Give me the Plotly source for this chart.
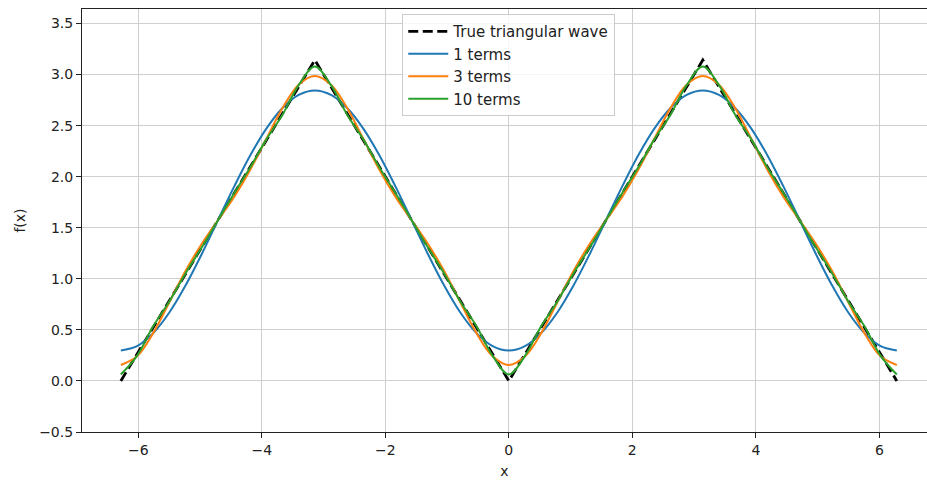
import plotly.graph_objects as go

# x grid (radians), from -2*pi to 2*pi
x_grid = [-6.2832, -6.0214, -5.7596, -5.4978, -5.2360, -4.9742, -4.7124, -4.4506, -4.1888,
          -3.9270, -3.6652, -3.4034, -3.1416, -2.8798, -2.6180, -2.3562, -2.0944, -1.8326,
          -1.5708, -1.3090, -1.0472, -0.7854, -0.5236, -0.2618, 0.0, 0.2618, 0.5236, 0.7854,
          1.0472, 1.3090, 1.5708, 1.8326, 2.0944, 2.3562, 2.6180, 2.8798, 3.1416, 3.4034,
          3.6652, 3.9270, 4.1888, 4.4506, 4.7124, 4.9742, 5.2360, 5.4978, 5.7596, 6.0214, 6.2832]

terms1 = [0.298, 0.341, 0.468, 0.670, 0.934, 1.241, 1.571, 1.900, 2.207, 2.471, 2.673, 2.801, 2.844,
          2.801, 2.673, 2.471, 2.207, 1.900, 1.571, 1.241, 0.934, 0.670, 0.468, 0.341, 0.298,
          0.341, 0.468, 0.670, 0.934, 1.241, 1.571, 1.900, 2.207, 2.471, 2.673, 2.801, 2.844,
          2.801, 2.673, 2.471, 2.207, 1.900, 1.571, 1.241, 0.934, 0.670, 0.468, 0.341, 0.298]

terms3 = [0.156, 0.241, 0.468, 0.771, 1.076, 1.341, 1.571, 1.800, 2.066, 2.371, 2.673, 2.901, 2.986,
          2.901, 2.673, 2.371, 2.066, 1.800, 1.571, 1.341, 1.076, 0.771, 0.468, 0.241, 0.156,
          0.241, 0.468, 0.771, 1.076, 1.341, 1.571, 1.800, 2.066, 2.371, 2.673, 2.901, 2.986,
          2.901, 2.673, 2.371, 2.066, 1.800, 1.571, 1.341, 1.076, 0.771, 0.468, 0.241, 0.156]

terms10 = [0.063, 0.246, 0.535, 0.777, 1.053, 1.306, 1.571, 1.836, 2.089, 2.365, 2.607, 2.896, 3.078,
           2.896, 2.607, 2.365, 2.089, 1.836, 1.571, 1.306, 1.053, 0.777, 0.535, 0.246, 0.063,
           0.246, 0.535, 0.777, 1.053, 1.306, 1.571, 1.836, 2.089, 2.365, 2.607, 2.896, 3.078,
           2.896, 2.607, 2.365, 2.089, 1.836, 1.571, 1.306, 1.053, 0.777, 0.535, 0.246, 0.063]

true_x = [-6.2832, -3.1416, 0.0, 3.1416, 6.2832]
true_y = [0.0, 3.1416, 0.0, 3.1416, 0.0]

x_ticks = [-6, -4, -2, 0, 2, 4, 6]
x_ticktext = ["−6", "−4", "−2", "0", "2", "4", "6"]
y_ticks = [-0.5, 0.0, 0.5, 1.0, 1.5, 2.0, 2.5, 3.0, 3.5]
y_ticktext = ["−0.5", "0.0", "0.5", "1.0", "1.5", "2.0", "2.5", "3.0", "3.5"]

FONT = "DejaVu Sans"
fig = go.Figure()
fig.add_trace(go.Scatter(x=true_x, y=true_y, mode="lines", name="True triangular wave",
                         line=dict(color="black", width=2.8, dash="10px,4.5px")))
fig.add_trace(go.Scatter(x=x_grid, y=terms1, mode="lines", name="1 terms",
                         line=dict(color="#1f77b4", width=2, shape="spline", smoothing=1)))
fig.add_trace(go.Scatter(x=x_grid, y=terms3, mode="lines", name="3 terms",
                         line=dict(color="#ff7f0e", width=2, shape="spline", smoothing=1)))
fig.add_trace(go.Scatter(x=x_grid, y=terms10, mode="lines", name="10 terms",
                         line=dict(color="#2ca02c", width=2, shape="spline", smoothing=1)))

axis_common = dict(showgrid=True, gridcolor="#cfcfcf", gridwidth=1, zeroline=False,
                   showline=True, linecolor="#222", linewidth=1.1,
                   ticks="outside", ticklen=5, tickwidth=1.1, tickcolor="#222",
                   tickfont=dict(family=FONT, size=14, color="#222"))

fig.update_layout(
    width=927, height=480,
    margin=dict(l=82, r=0, t=9, b=48),
    paper_bgcolor="white", plot_bgcolor="white",
    font=dict(family=FONT, size=14, color="#222"),
    xaxis=dict(range=[-6.912, 6.772], tickvals=x_ticks, ticktext=x_ticktext, mirror=True,
               title=dict(text="x", font=dict(family=FONT, size=14, color="#222"), standoff=9),
               **axis_common),
    yaxis=dict(range=[-0.5, 3.6416], tickvals=y_ticks, ticktext=y_ticktext,
               title=dict(text="f(x)", font=dict(family=FONT, size=14, color="#222"), standoff=10),
               **axis_common),
    legend=dict(x=0.379, y=0.988, xanchor="left", yanchor="top",
                bgcolor="rgba(255,255,255,0.8)", bordercolor="#cccccc", borderwidth=1,
                font=dict(family=FONT, size=15, color="#222"), itemwidth=40),
    showlegend=True,
)

fig.write_html("out.html")
